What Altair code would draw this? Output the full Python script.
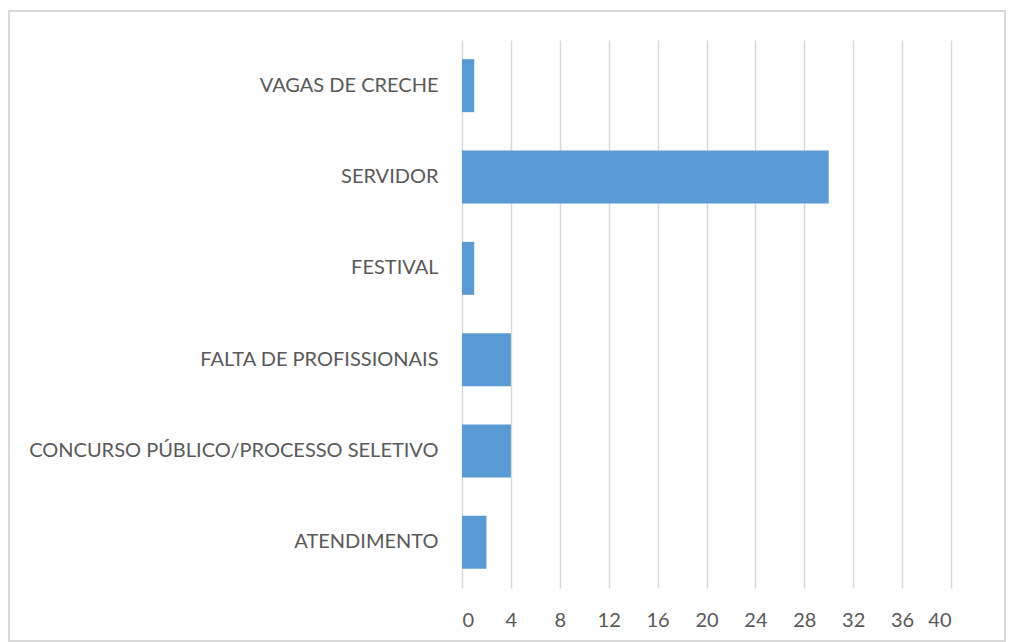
import altair as alt
import pandas as pd

categories = ["VAGAS DE CRECHE", "SERVIDOR", "FESTIVAL", "FALTA DE PROFISSIONAIS",
              "CONCURSO PÚBLICO/PROCESSO SELETIVO", "ATENDIMENTO"]
values = [1, 30, 1, 4, 4, 2]
x_ticks = [0, 4, 8, 12, 16, 20, 24, 28, 32, 36, 40]

df = pd.DataFrame({"categoria": categories, "valor": values})

FONT = "Lato"

bars = alt.Chart(df).mark_bar(color="#5B9BD5").encode(
    x=alt.X("valor:Q",
            scale=alt.Scale(domain=[0, 40], nice=False),
            axis=alt.Axis(values=x_ticks, title=None, grid=True, gridColor="#d9d9d9",
                          gridWidth=1.5, domain=False, ticks=False, labelPadding=22,
                          labelFontSize=20, labelColor="#595959", labelFont=FONT)),
    y=alt.Y("categoria:N", sort=categories,
            scale=alt.Scale(paddingInner=0.42, paddingOuter=0.21),
            axis=alt.Axis(title=None, domain=False, ticks=False, labelPadding=24,
                          labelFontSize=20, labelColor="#595959", labelFont=FONT,
                          labelLimit=600)),
)

border = alt.Chart(df).mark_rect(fill=None, stroke="#d9d9d9", strokeWidth=1.5, clip=False).encode(
    x=alt.value(-453), x2=alt.value(543), y=alt.value(-29), y2=alt.value(601)
)

chart = alt.layer(border, bars).properties(
    width=489, height=548,
    autosize=alt.AutoSizeParams(type="none"),
    padding={"left": 454, "top": 32, "right": 55, "bottom": 60},
).configure_view(stroke=None)

chart.save("out.html", embed_options={"renderer": "svg", "actions": False})
